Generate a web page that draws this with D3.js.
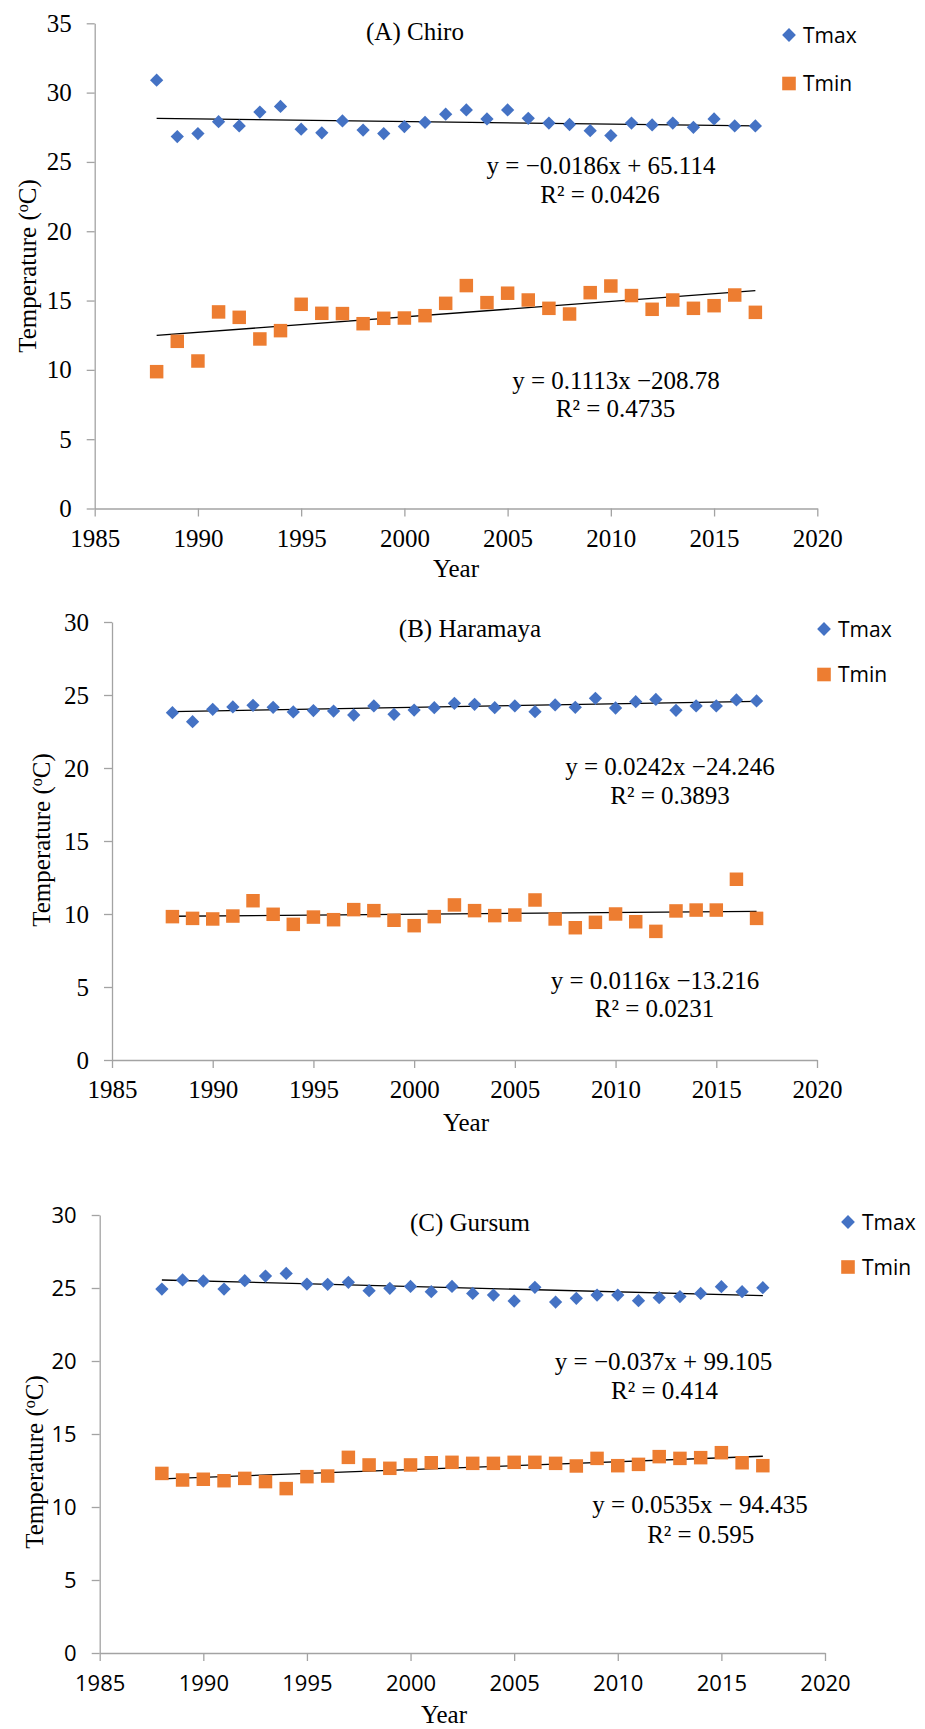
<!DOCTYPE html>
<html>
<head>
<meta charset="utf-8">
<script src="https://cdn.jsdelivr.net/npm/d3@7"></script>
<style>
  body { margin: 0; background: #fff; }
  svg { display: block; }
  .serif-ticks text { font-family: "Liberation Serif", "Times New Roman", serif !important; }
  .sans-ticks text { font-family: "Open Sans", "Noto Sans", sans-serif !important; }
</style>
</head>
<body>
<svg id="chart" width="925" height="1729"></svg>
<script>
// ---- data ----
const years = [1988, 1989, 1990, 1991, 1992, 1993, 1994, 1995, 1996, 1997,
               1998, 1999, 2000, 2001, 2002, 2003, 2004, 2005, 2006, 2007,
               2008, 2009, 2010, 2011, 2012, 2013, 2014, 2015, 2016, 2017];

const chiroTmax = [30.9, 26.83, 27.05, 27.9, 27.6, 28.6, 29.0, 27.36, 27.1, 27.96,
                   27.3, 27.05, 27.55, 27.86, 28.44, 28.75, 28.1, 28.75, 28.15, 27.8,
                   27.7, 27.25, 26.9, 27.8, 27.67, 27.8, 27.5, 28.1, 27.6, 27.6];
const chiroTmin = [9.87, 12.06, 10.64, 14.18, 13.79, 12.23, 12.83, 14.73, 14.08, 14.06,
                   13.33, 13.72, 13.74, 13.91, 14.8, 16.08, 14.85, 15.53, 15.04, 14.44,
                   14.03, 15.57, 16.05, 15.36, 14.37, 15.04, 14.44, 14.63, 15.4, 14.15];

const haramayaTmax = [23.79, 23.17, 24.02, 24.18, 24.29, 24.16, 23.84, 23.93, 23.9, 23.63,
                      24.25, 23.68, 23.97, 24.13, 24.43, 24.36, 24.13, 24.25, 23.86, 24.32,
                      24.16, 24.77, 24.11, 24.54, 24.7, 23.95, 24.25, 24.25, 24.66, 24.59];
const haramayaTmin = [9.82, 9.7, 9.66, 9.86, 10.91, 9.98, 9.29, 9.79, 9.61, 10.3,
                      10.23, 9.57, 9.2, 9.82, 10.62, 10.23, 9.89, 9.93, 10.96, 9.66,
                      9.06, 9.43, 10.0, 9.47, 8.81, 10.21, 10.27, 10.27, 12.38, 9.7];

const gursumTmax = [24.93, 25.55, 25.48, 24.93, 25.5, 25.82, 26.0, 25.27, 25.25, 25.39,
                    24.82, 24.98, 25.11, 24.75, 25.11, 24.63, 24.52, 24.11, 25.05, 24.04,
                    24.29, 24.52, 24.52, 24.13, 24.34, 24.41, 24.63, 25.09, 24.75, 25.02];
const gursumTmin = [12.3, 11.85, 11.9, 11.8, 11.96, 11.74, 11.26, 12.08, 12.12, 13.4,
                    12.88, 12.65, 12.88, 13.03, 13.06, 12.99, 12.99, 13.06, 13.06, 12.99,
                    12.81, 13.33, 12.83, 12.92, 13.45, 13.33, 13.38, 13.72, 13.03, 12.83];

// linear trend coefficients [slope, intercept] for Tmax and Tmin at each station
const chiroTrend    = [[-0.0186, 65.114], [0.1113, -208.78]];
const haramayaTrend = [[0.0242, -24.246], [0.0116, -13.216]];
const gursumTrend   = [[-0.037, 99.105],  [0.0535, -94.435]];

const chiroEq    = [["y = \u22120.0186x + 65.114", "R\u00B2 = 0.0426"], ["y = 0.1113x \u2212208.78", "R\u00B2 = 0.4735"]];
const haramayaEq = [["y = 0.0242x \u221224.246", "R\u00B2 = 0.3893"],    ["y = 0.0116x \u221213.216", "R\u00B2 = 0.0231"]];
const gursumEq   = [["y = \u22120.037x + 99.105", "R\u00B2 = 0.414"],    ["y = 0.0535x \u2212 94.435", "R\u00B2 = 0.595"]];

const stationTitles = ["(A) Chiro", "(B) Haramaya", "(C) Gursum"];
const seriesNames = ["Tmax", "Tmin"];
const xTicks = [1985, 1990, 1995, 2000, 2005, 2010, 2015, 2020];
const yTicksA = [0, 5, 10, 15, 20, 25, 30, 35];
const yTicksBC = [0, 5, 10, 15, 20, 25, 30];
const xDomain = [1985, 2020];

// ---- styling ----
const BLUE = "#4472C4";
const ORANGE = "#ED7D31";
const AXIS = "#a3a3a3";
const SERIF = "Liberation Serif, Times New Roman, serif";
const SANS = "Open Sans, Noto Sans, sans-serif";

const svg = d3.select("#chart");

const panels = [
  {
    title: stationTitles[0], tmax: chiroTmax, tmin: chiroTmin, trend: chiroTrend, eq: chiroEq,
    yTicks: yTicksA, left: 94.7, right: 817.3, top: 23.3, bottom: 508.5, tickClass: "serif-ticks", tickSize: 25,
    titlePos: [415, 40], yearPos: [456, 577], yLabelPos: [36, 266],
    legend: { dx: 789, tx: 803, y1: 35, y2: 83.5 },
    eqPos: [[[601, 174], [600, 202.5]], [[616, 389], [615.5, 417]]]
  },
  {
    title: stationTitles[1], tmax: haramayaTmax, tmin: haramayaTmin, trend: haramayaTrend, eq: haramayaEq,
    yTicks: yTicksBC, left: 112, right: 817, top: 622, bottom: 1060, tickClass: "serif-ticks", tickSize: 25,
    titlePos: [470, 637], yearPos: [466, 1131], yLabelPos: [50, 840],
    legend: { dx: 824, tx: 838, y1: 629, y2: 674.5 },
    eqPos: [[[670, 775], [670, 804]], [[655, 989], [654.5, 1017]]]
  },
  {
    title: stationTitles[2], tmax: gursumTmax, tmin: gursumTmin, trend: gursumTrend, eq: gursumEq,
    yTicks: yTicksBC, left: 99.7, right: 825, top: 1215, bottom: 1653, tickClass: "sans-ticks", tickSize: 22,
    titlePos: [470, 1231], yearPos: [444, 1723], yLabelPos: [43, 1462],
    legend: { dx: 848, tx: 862, y1: 1222, y2: 1267 },
    eqPos: [[[663.5, 1370], [664.5, 1399]], [[700, 1513], [700.7, 1543]]]
  }
];

const diamond = d3.symbol().type(d3.symbolSquare).size(88);
const square = d3.symbol().type(d3.symbolSquare).size(182);

panels.forEach(p => {
  const g = svg.append("g");
  const x = d3.scaleLinear().domain(xDomain).range([p.left, p.right]);
  const y = d3.scaleLinear().domain([0, d3.max(p.yTicks)]).range([p.bottom, p.top]);

  // axes
  const yAxis = g.append("g")
    .attr("transform", `translate(${x(xDomain[0])},0)`)
    .call(d3.axisLeft(y).tickValues(p.yTicks).tickSize(8).tickSizeOuter(0).tickPadding(15));
  const xAxis = g.append("g")
    .attr("transform", `translate(0,${y(0)})`)
    .call(d3.axisBottom(x).tickValues(xTicks).tickSize(8).tickSizeOuter(0).tickFormat(d3.format("d")));

  [yAxis, xAxis].forEach(a => {
    a.attr("class", p.tickClass).attr("font-family", null).attr("font-size", p.tickSize);
    a.selectAll("path.domain, line").attr("stroke", AXIS).attr("stroke-width", 1.3);
    a.selectAll("text")
      .attr("fill", "#000")
      .style("font-size", p.tickSize + "px");
  });
  xAxis.selectAll("text").attr("y", 38).attr("dy", 0);

  // trend lines
  const x0 = years[0], x1 = years[years.length - 1];
  p.trend.forEach(([m, b]) => {
    g.append("line")
      .attr("x1", x(x0)).attr("y1", y(m * x0 + b))
      .attr("x2", x(x1)).attr("y2", y(m * x1 + b))
      .attr("stroke", "#000").attr("stroke-width", 1.3);
  });

  // Tmax markers (diamonds)
  g.append("g").selectAll("path")
    .data(years.map((yr, i) => [yr, p.tmax[i]]))
    .join("path")
    .attr("d", diamond)
    .attr("transform", d => `translate(${x(d[0])},${y(d[1])}) rotate(45)`)
    .attr("fill", BLUE);

  // Tmin markers (squares)
  g.append("g").selectAll("path")
    .data(years.map((yr, i) => [yr, p.tmin[i]]))
    .join("path")
    .attr("d", square)
    .attr("transform", d => `translate(${x(d[0])},${y(d[1])})`)
    .attr("fill", ORANGE);

  const serifText = sel => sel.style("font-family", SERIF).style("font-size", "25px").attr("fill", "#000");

  // title
  g.append("text")
    .attr("x", p.titlePos[0]).attr("y", p.titlePos[1])
    .attr("text-anchor", "middle")
    .call(serifText)
    .text(p.title);

  // axis titles
  g.append("text")
    .attr("x", p.yearPos[0]).attr("y", p.yearPos[1])
    .attr("text-anchor", "middle")
    .call(serifText)
    .text("Year");

  const yl = g.append("text")
    .attr("transform", `translate(${p.yLabelPos[0]},${p.yLabelPos[1]}) rotate(-90)`)
    .attr("text-anchor", "middle")
    .call(serifText);
  yl.append("tspan").text("Temperature (");
  yl.append("tspan").style("font-size", "16px").attr("dy", -8).text("o");
  yl.append("tspan").attr("dy", 8).text("C)");

  // regression equations
  p.eq.forEach((lines, si) => {
    lines.forEach((txt, li) => {
      g.append("text")
        .attr("x", p.eqPos[si][li][0]).attr("y", p.eqPos[si][li][1])
        .attr("text-anchor", "middle")
        .call(serifText)
        .text(txt);
    });
  });

  // legend
  const L = p.legend;
  g.append("path").attr("d", d3.symbol().type(d3.symbolSquare).size(95))
    .attr("transform", `translate(${L.dx},${L.y1}) rotate(45)`).attr("fill", BLUE);
  g.append("path").attr("d", d3.symbol().type(d3.symbolSquare).size(185))
    .attr("transform", `translate(${L.dx},${L.y2})`).attr("fill", ORANGE);
  g.append("text").attr("x", L.tx).attr("y", L.y1 + 8)
    .style("font-family", SANS).style("font-size", "21px").text(seriesNames[0]);
  g.append("text").attr("x", L.tx).attr("y", L.y2 + 7.5)
    .style("font-family", SANS).style("font-size", "21px").text(seriesNames[1]);
});
</script>
</body>
</html>
